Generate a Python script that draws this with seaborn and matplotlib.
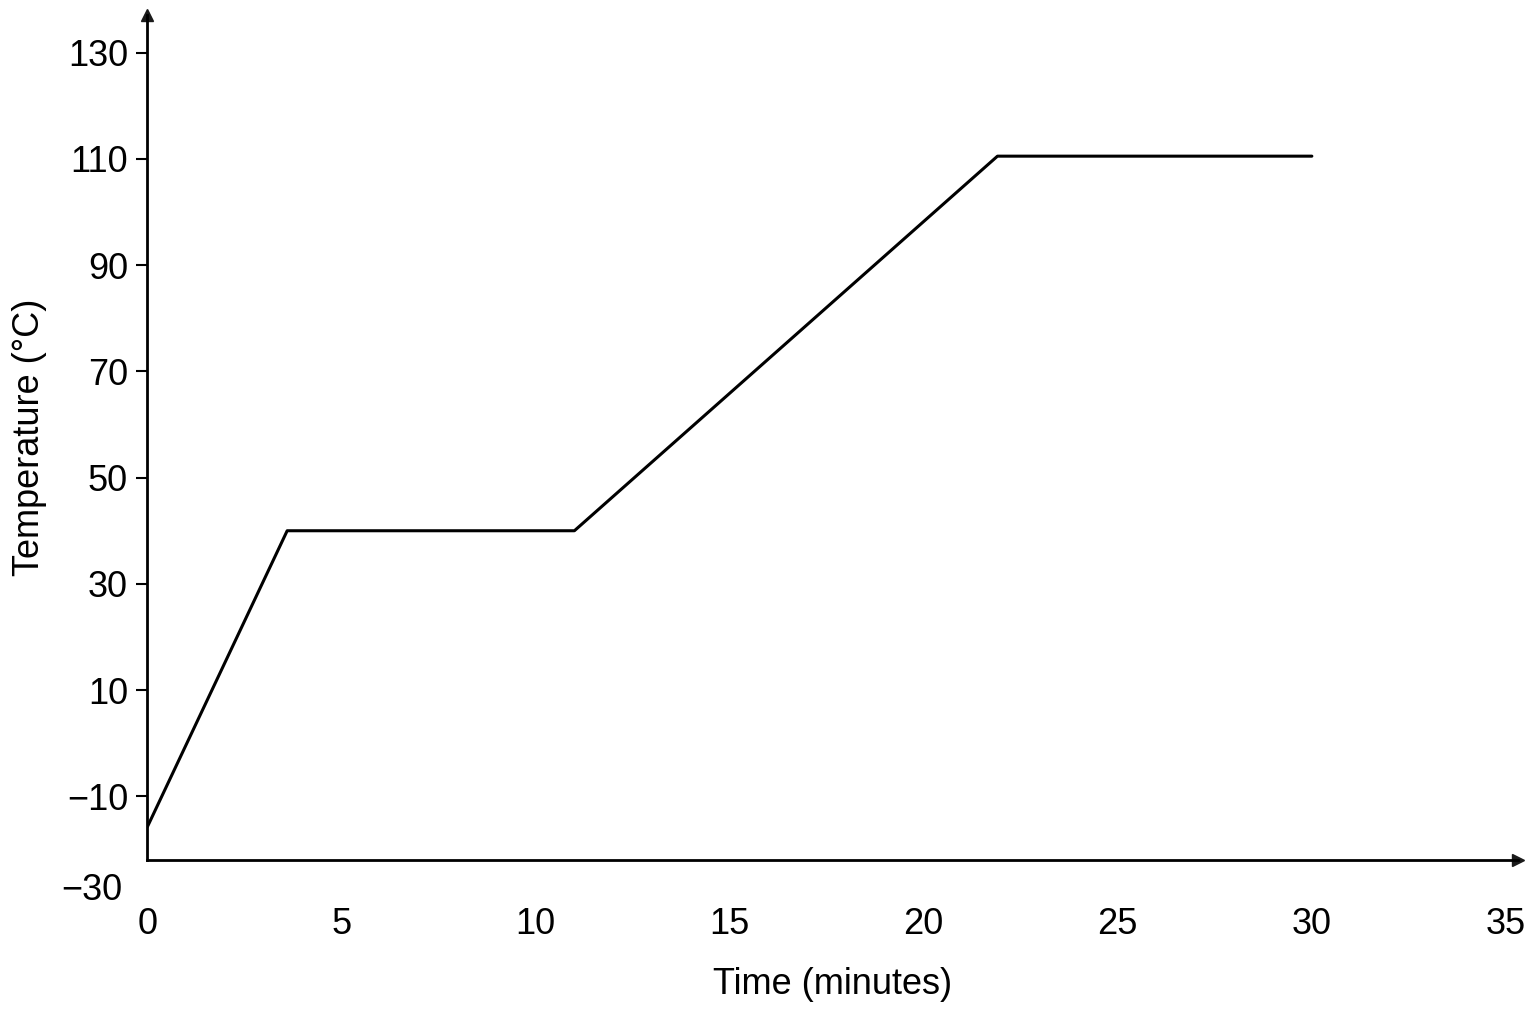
import matplotlib
matplotlib.use("Agg")
import matplotlib.pyplot as plt
import seaborn as sns
import pandas as pd

time_min = [0, 3.6, 11, 21.9, 30]
temp_c = [-15.7, 40, 40, 110.5, 110.5]
xticks = [0, 5, 10, 15, 20, 25, 30, 35]
yticks = [-10, 10, 30, 50, 70, 90, 110, 130]

sns.set_theme(style="white")
plt.rcParams['font.family'] = ['Liberation Sans', 'DejaVu Sans']

fig = plt.figure(figsize=(15.36, 10.24), dpi=100)
ax = fig.add_axes([0.096, 0.16, 0.892, 0.825])
df = pd.DataFrame({"t": time_min, "T": temp_c})
sns.lineplot(data=df, x="t", y="T", color="black", linewidth=2.2, ax=ax, sort=False)

ax.set_xlim(0, 35.3)
ax.set_ylim(-22, 137)
ax.set_xticks(xticks)
ax.set_xticklabels([str(v) for v in xticks])
ax.set_yticks(yticks)
ax.set_yticklabels([str(v).replace('-', '\u2212') for v in yticks])
ax.tick_params(axis='both', labelsize=26, colors='black', length=8, width=1.5, direction='out')
ax.tick_params(axis='x', length=0, pad=34)
ax.tick_params(axis='y', left=True, pad=6)
for s in ['top', 'right']:
    ax.spines[s].set_visible(False)
for s in ['left', 'bottom']:
    ax.spines[s].set_color('black')
    ax.spines[s].set_linewidth(2)
ax.plot(1, 0, ">k", transform=ax.transAxes, clip_on=False, markersize=9)
ax.plot(0, 1, "^k", transform=ax.transAxes, clip_on=False, markersize=9)
ax.text(-0.018, -0.036, "\u221230", transform=ax.transAxes, ha='right', va='center', fontsize=26, color='black')
ax.set_xlabel("Time (minutes)", fontsize=26, labelpad=18, color='black')
ax.set_ylabel("Temperature (\u00b0C)", fontsize=26, labelpad=14, color='black')
fig.savefig("out.png", dpi=100)
